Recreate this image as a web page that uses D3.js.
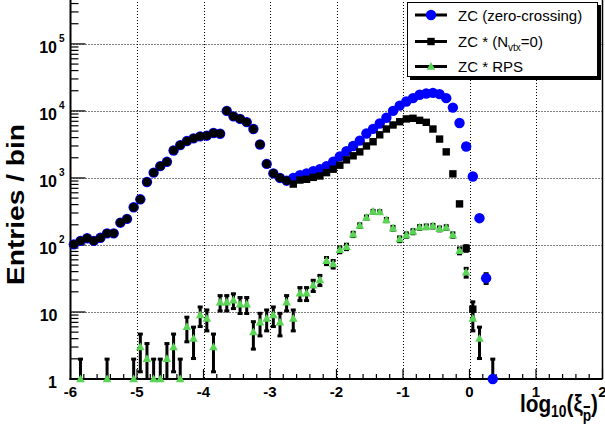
<!DOCTYPE html>
<html><head><meta charset="utf-8">
<script src="https://cdn.jsdelivr.net/npm/d3@7"></script>
<style>body{margin:0;background:#fff} svg{display:block}</style>
</head><body><svg id="c" width="605" height="431"></svg>
<script>
// Bin centres of log10(xi_pbar)
const bins = [-5.95,-5.85,-5.75,-5.65,-5.55,-5.45,-5.35,-5.25,-5.15,-5.05,
  -4.95,-4.85,-4.75,-4.65,-4.55,-4.45,-4.35,-4.25,-4.15,-4.05,
  -3.95,-3.85,-3.75,-3.65,-3.55,-3.45,-3.35,-3.25,-3.15,-3.05,
  -2.95,-2.85,-2.75,-2.65,-2.55,-2.45,-2.35,-2.25,-2.15,-2.05,
  -1.95,-1.85,-1.75,-1.65,-1.55,-1.45,-1.35,-1.25,-1.15,-1.05,
  -0.95,-0.85,-0.75,-0.65,-0.55,-0.45,-0.35,-0.25,-0.15,-0.05,
  0.05,0.15,0.25,0.35];
// ZC (zero-crossing)
const zcVals = [102,115,126,115,128,149,149,215,245,365,
  480,870,1200,1500,1740,2570,3090,3550,3900,4170,
  4270,4680,4570,10000,8300,7600,6800,5370,3160,1620,
  1170,1000,910,1000,1100,1170,1260,1350,1500,1740,
  2100,2500,3000,3600,4600,5400,6500,7900,10000,12000,
  13800,15500,17400,18200,18600,17800,15500,11200,6600,2950,
  1050,251,32,1];
// ZC * (Nvtx=0)
const nvtxVals = [102,115,126,115,128,149,149,215,245,365,
  480,870,1200,1500,1740,2570,3090,3550,3900,4170,
  4270,4680,4570,10000,8300,7600,6800,5370,3160,1620,
  1170,1000,910,810,930,955,1020,1070,1200,1350,
  1550,1860,2140,2450,3000,3470,4400,5370,6170,6900,
  7600,7760,7240,6760,5370,3800,2450,1150,410,89,
  11,null,null,null];
// ZC * RPS
const rpsVals = [null,1,null,null,null,1,null,null,null,1,
  3,2,1,1,2,3,1,6,4,9,
  8,3,14,14,15,13,13,5,7,8,
  9,7,14,8,19,19,25,30,58,52,
  85,94,144,195,257,314,310,236,178,122,
  141,158,183,187,191,174,182,141,82,39,
  8,4,null,null];
const xTicks = [-6,-5,-4,-3,-2,-1,0,1,2];
const yExps = [0,1,2,3,4,5];
const legendLabels = ["ZC (zero-crossing)", "ZC * (N", "ZC * RPS"];

const svg = d3.select("#c");
const W = 605, H = 431;
const x = d3.scaleLinear().domain([-6,2]).range([70.5,602.5]);
const y = d3.scaleLog().domain([1, Math.pow(10,5.67)]).range([379,-1]);
const X0 = x.range()[0], X1 = x.range()[1], Y0 = y.range()[0], Y1 = y.range()[1];
const FONT = "'Liberation Sans', Arial, Helvetica, sans-serif";
const BLUE = "#0000ff", GREEN = "#59d454";

svg.append("rect").attr("width",W).attr("height",H).attr("fill","#fff");
svg.append("defs").append("clipPath").attr("id","pc")
  .append("rect").attr("x",X0).attr("y",Y1).attr("width",X1-X0).attr("height",Y0-Y1);

// grid
const grid = svg.append("g").attr("stroke","#000").attr("stroke-width",1).attr("stroke-dasharray","1,2");
xTicks.filter(t => t > -6 && t < 2).forEach(t => {
  grid.append("line").attr("x1",Math.round(x(t))+0.5).attr("x2",Math.round(x(t))+0.5).attr("y1",Y1).attr("y2",Y0);
});
yExps.filter(e => e > 0).forEach(e => {
  const yy = Math.round(y(Math.pow(10,e)))+0.5;
  grid.append("line").attr("x1",X0).attr("x2",X1).attr("y1",yy).attr("y2",yy);
});

// axes ticks
const ax = svg.append("g").attr("stroke","#000");
yExps.forEach(e => {
  const yy = y(Math.pow(10,e));
  ax.append("line").attr("x1",X0).attr("x2",X0+15).attr("y1",yy).attr("y2",yy).attr("stroke-width",1.2);
  for (let m = 2; m <= 9; m++) {
    const v = m*Math.pow(10,e);
    if (v > y.domain()[1]) break;
    const ym = y(v);
    ax.append("line").attr("x1",X0).attr("x2",X0+8).attr("y1",ym).attr("y2",ym).attr("stroke-width",1.2);
  }
});
xTicks.forEach(t => {
  ax.append("line").attr("x1",x(t)).attr("x2",x(t)).attr("y1",Y0).attr("y2",Y0-10).attr("stroke-width",1.2);
});
d3.range(-60,20,2).filter(k => k % 10 !== 0).forEach(k => {
  const xx = x(k/10);
  ax.append("line").attr("x1",xx).attr("x2",xx).attr("y1",Y0).attr("y2",Y0-5).attr("stroke-width",1.2);
});
// frame
ax.append("line").attr("x1",X0).attr("x2",X0).attr("y1",Y1).attr("y2",Y0+1).attr("stroke-width",2);
ax.append("line").attr("x1",X0-1).attr("x2",X1).attr("y1",Y0).attr("y2",Y0).attr("stroke-width",2);
ax.append("line").attr("x1",X1).attr("x2",X1).attr("y1",Y1).attr("y2",Y0).attr("stroke-width",1.5);

// tick labels
const tl = svg.append("g").attr("font-family",FONT).attr("font-weight","bold").attr("fill","#000");
xTicks.forEach(t => {
  tl.append("text").attr("x",x(t)).attr("y",397).attr("text-anchor","middle").attr("font-size",15).text(String(t));
});
yExps.forEach(e => {
  const yy = y(Math.pow(10,e)) + 3 + 5.8;
  if (e === 0) {
    tl.append("text").attr("x",57).attr("y",yy).attr("text-anchor","end").attr("font-size",16).text("1");
  } else if (e === 1) {
    tl.append("text").attr("x",57.5).attr("y",yy).attr("text-anchor","end").attr("font-size",16).text("10");
  } else {
    tl.append("text").attr("x",57).attr("y",yy).attr("text-anchor","end").attr("font-size",16).text("10");
    tl.append("text").attr("x",59).attr("y",yy-11).attr("font-size",10).text(String(e));
  }
});

// axis titles
svg.append("text").attr("transform","translate(24,204.5) rotate(-90)")
  .attr("text-anchor","middle").attr("font-family",FONT).attr("font-weight","bold")
  .attr("font-size",23).attr("textLength",161).attr("lengthAdjust","spacingAndGlyphs").text("Entries / bin");
const xt = svg.append("text").attr("x",520).attr("y",412).attr("font-family",FONT).attr("font-weight","bold")
  .attr("font-size",24).attr("textLength",78).attr("lengthAdjust","spacingAndGlyphs");
xt.append("tspan").text("log");
xt.append("tspan").attr("font-size",16).attr("dy",5).text("10");
xt.append("tspan").attr("dy",-5).text("(ξ");
xt.append("tspan").attr("font-size",16).attr("dy",9).text("p");
xt.append("tspan").attr("dy",-9).text(")");
try {
  const ext = xt.node().getExtentOfChar(7);
  svg.append("line").attr("x1",ext.x+1).attr("x2",ext.x+ext.width-1).attr("y1",407).attr("y2",407)
    .attr("stroke","#000").attr("stroke-width",2);
} catch(err) {}

// data
const plot = svg.append("g");
const bars = plot.append("g").attr("clip-path","url(#pc)");
function rows(vals){ return bins.map((b,i)=>({b, v:vals[i], i})).filter(d => d.v != null && d.v > 0); }
function errBars(data){
  data.forEach(d => {
    const e = Math.sqrt(d.v);
    const yh = y(d.v+e);
    const yl = (d.v-e) > 0.05 ? y(d.v-e) : Y0+6;
    const xx = x(d.b);
    bars.append("line").attr("x1",xx).attr("x2",xx).attr("y1",yh).attr("y2",yl).attr("stroke","#000").attr("stroke-width",3);
    bars.append("rect").attr("x",xx-2.5).attr("y",yh-1.2).attr("width",5).attr("height",3).attr("fill","#000");
    if ((d.v-e) > 0.05) bars.append("rect").attr("x",xx-2.5).attr("y",yl-1.8).attr("width",5).attr("height",3).attr("fill","#000");
  });
}
const triPath = "M0,-4.6L4.3,3.2L-4.3,3.2Z";

const zc = rows(zcVals);
errBars(zc);
plot.append("g").selectAll("circle").data(zc).join("circle")
  .attr("cx",d=>x(d.b)).attr("cy",d=>y(d.v)).attr("r",5.2).attr("fill",BLUE);

const nv = rows(nvtxVals);
errBars(nv);
const nvg = plot.append("g");
nvg.selectAll("circle").data(nv.filter(d => d.v === zcVals[d.i])).join("circle")
  .attr("cx",d=>x(d.b)).attr("cy",d=>y(d.v)).attr("r",4.4).attr("fill","#000");
nvg.selectAll("rect").data(nv.filter(d => d.v !== zcVals[d.i])).join("rect")
  .attr("x",d=>x(d.b)-3.7).attr("y",d=>y(d.v)-3.7).attr("width",7.4).attr("height",7.4).attr("fill","#000");

const rp = rows(rpsVals);
errBars(rp);
plot.append("g").selectAll("path").data(rp).join("path")
  .attr("transform",d=>`translate(${x(d.b)},${y(d.v)})`).attr("d",triPath).attr("fill",GREEN);

// legend
const lg = svg.append("g");
lg.append("rect").attr("x",410).attr("y",5).attr("width",191).attr("height",75).attr("fill","#000");
lg.append("rect").attr("x",407.5).attr("y",2.5).attr("width",190).attr("height",74).attr("fill","#fff").attr("stroke","#000").attr("stroke-width",1);
const rowY = [15, 41.5, 66.5];
rowY.forEach(ry => {
  lg.append("line").attr("x1",415).attr("x2",447).attr("y1",ry).attr("y2",ry).attr("stroke","#000").attr("stroke-width",3);
});
lg.append("circle").attr("cx",431).attr("cy",rowY[0]).attr("r",5.2).attr("fill",BLUE);
lg.append("rect").attr("x",431-3.7).attr("y",rowY[1]-3.7).attr("width",7.4).attr("height",7.4).attr("fill","#000");
lg.append("path").attr("transform",`translate(431,${rowY[2]})`).attr("d",triPath).attr("fill",GREEN);
const lt = lg.append("g").attr("font-family",FONT).attr("font-size",15).attr("fill","#000");
lt.append("text").attr("x",458).attr("y",rowY[0]+5.5).text(legendLabels[0]);
const t2 = lt.append("text").attr("x",458).attr("y",rowY[1]+5.5);
t2.append("tspan").text(legendLabels[1]);
t2.append("tspan").attr("font-size",10).attr("dy",3.5).text("vtx");
t2.append("tspan").attr("dy",-3.5).text("=0)");
lt.append("text").attr("x",458).attr("y",rowY[2]+5.5).text(legendLabels[2]);
</script>
</body></html>
